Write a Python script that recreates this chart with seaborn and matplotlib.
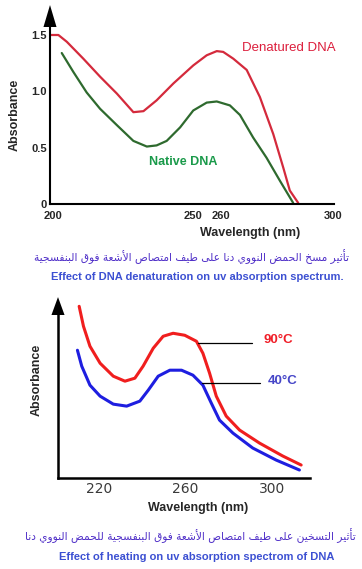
"""
UV absorption spectra of DNA: denaturation and heating effects
"""

import unicodedata

import matplotlib
matplotlib.use('Agg')
import matplotlib.pyplot as plt
from matplotlib.patches import Polygon
import seaborn as sns

# Top panel: denatured vs native DNA
top_wl_denatured = [199.0, 201.9, 204.9, 210.8, 216.8, 222.8, 228.7, 232.3, 237.0, 243.0,
                    250.1, 254.9, 258.5, 260.8, 264.4, 269.2, 273.9, 278.7, 282.3, 284.6, 287.6]
top_abs_denatured = [1.50, 1.50, 1.44, 1.29, 1.13, 0.98, 0.815, 0.824, 0.92, 1.07,
                     1.23, 1.32, 1.357, 1.35, 1.29, 1.19, 0.95, 0.62, 0.32, 0.12, 0.01]
top_wl_native = [203.1, 207.3, 212.0, 216.8, 222.8, 228.7, 233.5, 237.0, 240.6, 245.4,
                 250.1, 254.9, 258.5, 263.2, 266.8, 271.5, 276.3, 281.1, 285.8]
top_abs_native = [1.34, 1.17, 0.99, 0.845, 0.70, 0.56, 0.51, 0.52, 0.56, 0.68,
                  0.83, 0.90, 0.91, 0.875, 0.79, 0.59, 0.41, 0.205, 0.01]
top_xticks = [200, 250, 260, 300]
top_yticks = [0, 0.5, 1.0, 1.5]
top_yticklabels = ['0', '0.5', '1.0', '1.5']

# Bottom panel: 90°C vs 40°C (arbitrary absorbance units)
bot_wl_90 = [210.8, 212.8, 215.8, 220.5, 226.6, 232.0, 236.6, 240.4, 245.1, 249.7, 254.3,
             259.7, 265.1, 268.1, 271.2, 274.3, 278.9, 285.1, 294.3, 305.1, 313.6]
bot_abs_90 = [1.72, 1.52, 1.32, 1.15, 1.02, 0.97, 1.00, 1.12, 1.30, 1.42, 1.45,
              1.43, 1.37, 1.25, 1.05, 0.82, 0.62, 0.48, 0.35, 0.22, 0.13]
bot_wl_40 = [210.0, 212.0, 215.8, 220.5, 226.6, 232.8, 238.9, 242.8, 247.4, 252.8,
             258.2, 263.5, 268.1, 272.0, 275.8, 282.0, 291.2, 302.0, 312.8]
bot_abs_40 = [1.28, 1.12, 0.93, 0.82, 0.74, 0.72, 0.77, 0.88, 1.02, 1.08,
              1.08, 1.03, 0.93, 0.75, 0.58, 0.45, 0.30, 0.18, 0.08]
bot_xticks = [220, 240, 260, 280, 300]
bot_xticklabels = ['220', '', '260', '', '300']

caption_top_ar = 'تأثير مسخ الحمض النووي دنا على طيف امتصاص الأشعة فوق البنفسجية'
caption_top_en = 'Effect of DNA denaturation on uv absorption spectrum.'
caption_bot_ar = 'تأثير التسخين على طيف امتصاص الأشعة فوق البنفسجية للحمض النووي دنا'
caption_bot_en = 'Effect of heating on uv absorption spectrom of DNA'


def arabic_visual(text):
    """Join Arabic letters into presentation forms and reverse for LTR drawing"""
    def form(ch, kind):
        try:
            return unicodedata.lookup(unicodedata.name(ch) + ' ' + kind + ' FORM')
        except (KeyError, ValueError):
            return None

    def joins_next(ch):
        return form(ch, 'INITIAL') is not None

    def joins_prev(ch):
        return form(ch, 'FINAL') is not None

    out = []
    i, n = 0, len(text)
    while i < n:
        ch = text[i]
        prev = text[i - 1] if i > 0 else ' '
        nxt = text[i + 1] if i + 1 < n else ' '
        if ch == 'ل' and nxt in 'اأإآ':
            lig = 'ARABIC LIGATURE LAM WITH ' + unicodedata.name(nxt)[len('ARABIC LETTER '):]
            kind = 'FINAL' if joins_next(prev) else 'ISOLATED'
            out.append(unicodedata.lookup(lig + ' ' + kind + ' FORM'))
            i += 2
            continue
        p = joins_next(prev) and joins_prev(ch)
        q = joins_next(ch) and joins_prev(nxt)
        kind = 'MEDIAL' if p and q else 'FINAL' if p else 'INITIAL' if q else 'ISOLATED'
        out.append(form(ch, kind) or ch)
        i += 1
    return ''.join(reversed(out))


def axis_arrow(ax, width, height):
    """Black triangle on top of the y axis"""
    tri = Polygon([[-width, 1.0], [width, 1.0], [0, 1.0 + height]], closed=True,
                  transform=ax.transAxes, clip_on=False, color='black', lw=0)
    ax.add_patch(tri)


sns.set_style('white')
plt.rcParams['font.family'] = ['Liberation Sans', 'DejaVu Sans']

fig = plt.figure(figsize=(3.62, 5.69), dpi=100)

# ---------- top panel ----------
ax1 = fig.add_axes([50 / 362, 1 - 204 / 569, 284 / 362, 177 / 569])
sns.lineplot(x=top_wl_denatured, y=top_abs_denatured, ax=ax1, color='#d42a3c', lw=1.6)
sns.lineplot(x=top_wl_native, y=top_abs_native, ax=ax1, color='#2e6a2e', lw=1.6)
ax1.set_xlim(198.9, 300.4)
ax1.set_ylim(0, 1.571)
ax1.set_xticks(top_xticks)
ax1.set_xticklabels([str(t) for t in top_xticks], fontsize=8, fontweight='bold')
ax1.set_yticks(top_yticks)
ax1.set_yticklabels(top_yticklabels, fontsize=8, fontweight='bold')
ax1.tick_params(axis='x', direction='in', length=6.5, width=0.8, pad=5, color='black')
ax1.tick_params(axis='y', direction='in', length=3, width=0.8, pad=2, color='black')
sns.despine(ax=ax1)
for side in ['left', 'bottom']:
    ax1.spines[side].set_linewidth(1.5)
    ax1.spines[side].set_color('black')
axis_arrow(ax1, 0.023, 0.124)
ax1.text(284.2, 1.385, 'Denatured DNA', color='#dc1e3c', fontsize=9.5,
         ha='center', va='center')
ax1.text(246.4, 0.37, 'Native DNA', color='#1a9a4a', fontsize=9, fontweight='bold',
         ha='center', va='center')
ax1.set_xlabel('')
ax1.set_ylabel('')
fig.text(250 / 362, 1 - 233 / 569, 'Wavelength (nm)', fontsize=9, fontweight='bold',
         ha='center', va='center')
fig.text(15 / 362, 1 - 115 / 569, 'Absorbance', fontsize=9, fontweight='bold',
         rotation=90, ha='center', va='center')

# ---------- bottom panel ----------
ax2 = fig.add_axes([58 / 362, 1 - 478 / 569, 252 / 362, 163 / 569])
sns.lineplot(x=bot_wl_90, y=bot_abs_90, ax=ax2, color='#f01e1e', lw=2.2)
sns.lineplot(x=bot_wl_40, y=bot_abs_40, ax=ax2, color='#1e1ee0', lw=2.2)
for line in ax2.lines:
    line.set_clip_on(False)
ax2.set_xlim(201.0, 317.7)
ax2.set_ylim(0, 1.633)
ax2.set_xticks(bot_xticks)
ax2.set_xticklabels(bot_xticklabels, fontsize=10, color='#3a3a3a',
                    family=['DejaVu Sans'])
ax2.set_yticks([])
ax2.tick_params(axis='x', direction='in', length=7, width=1.8, pad=3, color='black')
sns.despine(ax=ax2)
for side in ['left', 'bottom']:
    ax2.spines[side].set_linewidth(1.8)
    ax2.spines[side].set_color('black')
axis_arrow(ax2, 0.026, 0.11)

# leader lines and labels
ax2.plot([265.9, 290.9], [1.356, 1.356], color='black', lw=0.9)
ax2.plot([267.7, 294.6], [0.95, 0.95], color='black', lw=0.9)
ax2.text(296.0, 1.383, '90°C', color='#f01e28', fontsize=9.5, fontweight='bold',
         ha='left', va='center')
ax2.text(298.3, 0.976, '40°C', color='#4646c8', fontsize=9.5, fontweight='bold',
         ha='left', va='center')
ax2.set_xlabel('')
ax2.set_ylabel('')
fig.text(198 / 362, 1 - 508 / 569, 'Wavelength (nm)', fontsize=9, fontweight='bold',
         ha='center', va='center')
fig.text(37 / 362, 1 - 380 / 569, 'Absorbance', fontsize=9, fontweight='bold',
         rotation=90, ha='center', va='center')

# ---------- captions ----------
cap_en = ['Liberation Sans Narrow', 'Liberation Sans', 'DejaVu Sans']
fig.text(192 / 362, 1 - 257 / 569, arabic_visual(caption_top_ar), fontsize=7.7,
         color='#5030c8', ha='center', va='center', family=['DejaVu Sans'])
fig.text(197 / 362, 1 - 277 / 569, caption_top_en, fontsize=8, fontweight='bold',
         color='#3c50d2', ha='center', va='center', family=cap_en)
fig.text(190 / 362, 1 - 536 / 569, arabic_visual(caption_bot_ar), fontsize=7.7,
         color='#5030c8', ha='center', va='center', family=['DejaVu Sans'])
fig.text(197 / 362, 1 - 557 / 569, caption_bot_en, fontsize=8, fontweight='bold',
         color='#3c50d2', ha='center', va='center', family=cap_en)

fig.savefig('out.png', dpi=100)
plt.close(fig)
